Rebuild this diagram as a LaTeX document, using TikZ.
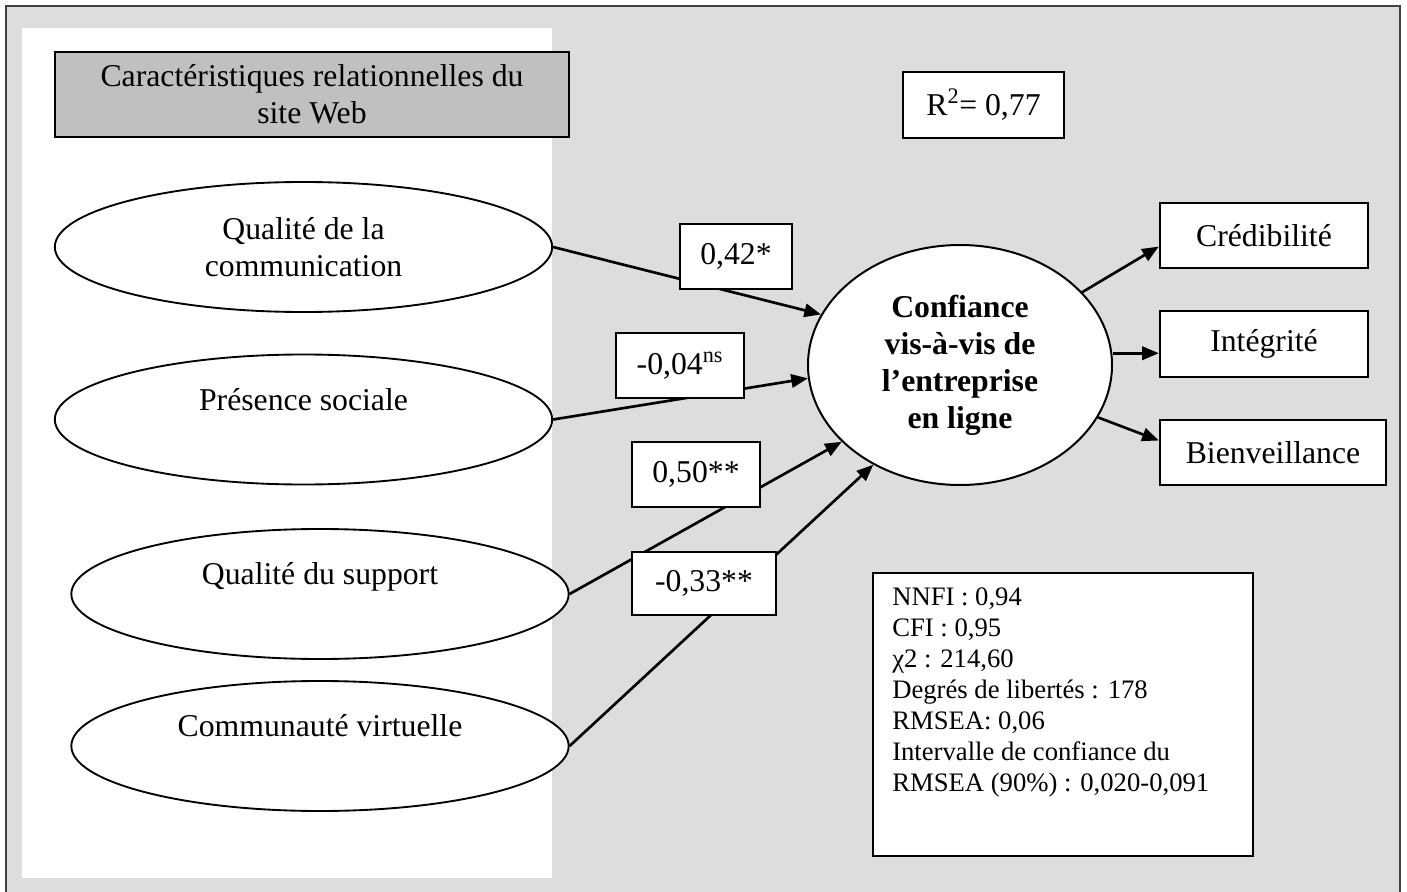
\documentclass[tikz,border=0pt]{standalone}
\usepackage{fontspec}
\setmainfont{Liberation Serif}
\usetikzlibrary{shapes.geometric,arrows.meta}
\definecolor{bggrey}{HTML}{DDDDDD}
\definecolor{hdrgrey}{HTML}{C0C0C0}
\definecolor{framegrey}{HTML}{404040}
\begin{document}
\begin{tikzpicture}[x=0.75pt,y=-0.75pt,
  lbl/.style={font=\fontsize{23.8}{27.75}\selectfont},
  oval/.style={ellipse, draw, fill=white, line width=1.4pt, inner sep=0pt,
    minimum width=373pt, minimum height=97.5pt, align=center, lbl},
  oneline/.style={text height=16pt, text depth=30pt},
  box/.style={rectangle, draw, fill=white, line width=1.8pt, inner sep=0pt, lbl},
  arr/.style={line width=2pt, -{Triangle[length=12.5pt,width=10pt]}}
]
\useasboundingbox (0,0) rectangle (1407,892);
\fill[white] (0,0) rectangle (1407,892);
\draw[framegrey, fill=bggrey, line width=1.8pt] (6,6) rectangle (1400,910);
\fill[white] (22,28) rectangle (552,878);

% header
\node[box, fill=hdrgrey, minimum width=385.5pt, minimum height=64pt, align=center]
  (hdr) at (312,94.5) {Caractéristiques relationnelles du\\site Web};

% left ovals
\node[oval] (q1) at (303.5,247) {Qualité de la\\communication};
\node[oval, oneline] (q2) at (303.5,419.5) {Présence sociale};
\node[oval, oneline] (q3) at (320,594) {Qualité du support};
\node[oval, oneline] (q4) at (320,746) {Communauté virtuelle};

% central construct
\node[ellipse, draw, fill=white, line width=1.5pt, inner sep=0pt,
  minimum width=228pt, minimum height=180pt, align=center,
  font=\fontsize{23.8}{27.75}\selectfont\bfseries]
  (conf) at (960,365) {Confiance\\vis-à-vis de\\l’entreprise\\en ligne};

% indicators
\node[box, minimum width=156pt, minimum height=48.75pt] (cred) at (1264,235.5) {Crédibilité};
\node[box, minimum width=156pt, minimum height=49.5pt] (integ) at (1264,344) {Intégrité};
\node[box, minimum width=169.5pt, minimum height=48.75pt] (bien) at (1273,452.5) {Bienveillance};

% connectors
\draw[arr] (conf) -- (cred.186);
\draw[arr] (integ.185 -| conf.east) -- (integ.185);
\draw[arr] (conf) -- (bien.174);
\draw[arr] (q1.east) -- (conf.160);
\draw[arr] (q2.east) -- (conf.185);
\draw[arr] (q3.east) -- (conf.213);
\draw[arr] (q4.east) -- (conf.229);

% coefficient labels
\node[box, minimum width=84pt, minimum height=48.75pt] (c1) at (736,256.5) {0,42*};
\node[box, minimum width=96pt, minimum height=48.75pt] (c2) at (680,365.5) {-0,04\textsuperscript{ns}};
\node[box, minimum width=96pt, minimum height=48.75pt] (c3) at (696,474.5) {0,50**};
\node[box, minimum width=108pt, minimum height=47.25pt] (c4) at (704,583.5) {-0,33**};

% R2
\node[box, minimum width=120.75pt, minimum height=49.5pt] (r2) at (983.5,105) {R\textsuperscript{2}= 0,77};

% fit indices
\node[box, anchor=north west, minimum width=285pt, minimum height=212.25pt] (fitbox) at (872,572) {};
\node[anchor=north west, inner sep=0pt, align=left, font=\fontsize{20}{23.25}\selectfont]
  (fittxt) at (892,587) {NNFI : 0,94\\CFI : 0,95\\χ2 : 214,60\\Degrés de libertés : 178\\RMSEA: 0,06\\Intervalle de confiance du\\RMSEA (90\%) : 0,020-0,091};
\end{tikzpicture}
\end{document}
